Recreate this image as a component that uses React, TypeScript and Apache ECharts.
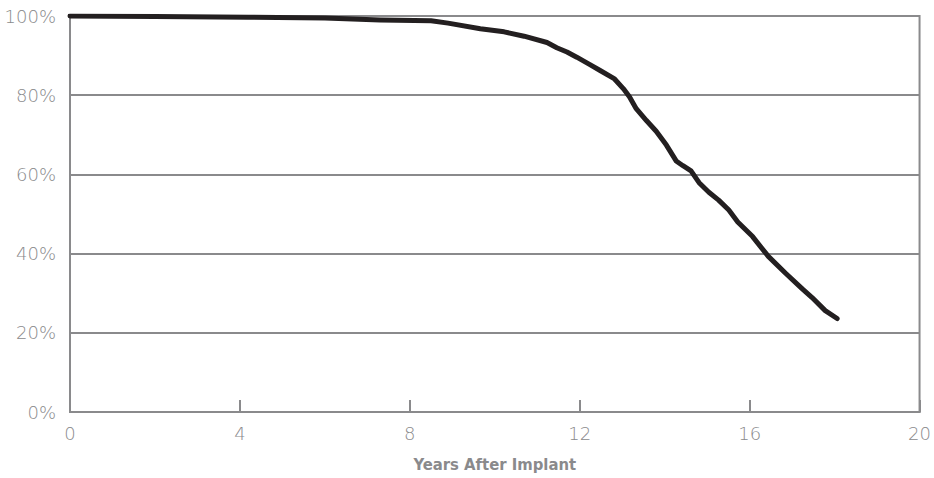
import React, { useEffect, useRef } from "react";
import * as echarts from "echarts";

const years = [0, 2, 4.2, 6, 7.3, 8.5, 8.9, 9.66, 10.22, 10.69, 11.23, 11.46, 11.7, 11.93, 12.23, 12.47, 12.82, 13.03, 13.17, 13.33, 13.57, 13.8, 14.04, 14.27, 14.43, 14.62, 14.81, 15.04, 15.27, 15.51, 15.72, 16.07, 16.44, 16.84, 17.24, 17.47, 17.78, 18.06];
const survival = [100, 99.9, 99.7, 99.5, 99.0, 98.8, 98.2, 96.8, 96.0, 94.9, 93.3, 92.0, 90.9, 89.6, 87.8, 86.3, 84.1, 81.6, 79.6, 76.6, 73.6, 70.9, 67.4, 63.4, 62.2, 60.9, 57.9, 55.5, 53.5, 51.0, 48.0, 44.3, 39.3, 35.1, 31.1, 28.9, 25.6, 23.6];
const xTicks = [0, 4, 8, 12, 16, 20];
const yTicks = [0, 20, 40, 60, 80, 100];
const xTitle = "Years After Implant";

const GRAY = "#8a8a8c";

export default function App() {
  const ref = useRef<HTMLDivElement>(null);
  useEffect(() => {
    if (!ref.current) return;
    const chart = echarts.init(ref.current, null, { renderer: "svg" });
    chart.setOption({
      animation: false,
      grid: {
        left: 70,
        right: 9,
        top: 16,
        bottom: 60,
        show: true,
        borderColor: GRAY,
        borderWidth: 2,
      },
      xAxis: {
        type: "value",
        min: xTicks[0],
        max: xTicks[xTicks.length - 1],
        interval: 4,
        name: xTitle,
        nameLocation: "middle",
        nameGap: 44,
        nameTextStyle: {
          color: GRAY,
          fontSize: 16.5,
          fontWeight: "bold",
          fontFamily: "'Liberation Sans Narrow', 'DejaVu Sans Condensed', sans-serif",
        },
        axisLine: { show: true, lineStyle: { color: GRAY, width: 2 } },
        axisTick: { show: true, inside: true, length: 12, lineStyle: { color: GRAY, width: 2 } },
        splitLine: { show: false },
        axisLabel: {
          color: GRAY,
          fontSize: 18,
          fontWeight: 200,
          fontFamily: "'DejaVu Sans', sans-serif",
          margin: 12,
        },
      },
      yAxis: {
        type: "value",
        min: yTicks[0],
        max: yTicks[yTicks.length - 1],
        interval: 20,
        axisLine: { show: true, lineStyle: { color: GRAY, width: 2 } },
        axisTick: { show: false },
        splitLine: { show: true, lineStyle: { color: GRAY, width: 2 } },
        axisLabel: {
          color: GRAY,
          fontSize: 18,
          fontWeight: 200,
          fontFamily: "'DejaVu Sans', sans-serif",
          margin: 14,
          formatter: "{value}%",
        },
      },
      series: [
        {
          type: "line",
          data: years.map((x, i) => [x, survival[i]]),
          symbol: "none",
          lineStyle: { color: "#231f20", width: 5, cap: "round", join: "round" },
        },
      ],
    });
    return () => chart.dispose();
  }, []);
  return (
    <div
      ref={ref}
      style={{ position: "fixed", left: 0, top: 0, width: 934, height: 478, background: "#fff" }}
    />
  );
}
